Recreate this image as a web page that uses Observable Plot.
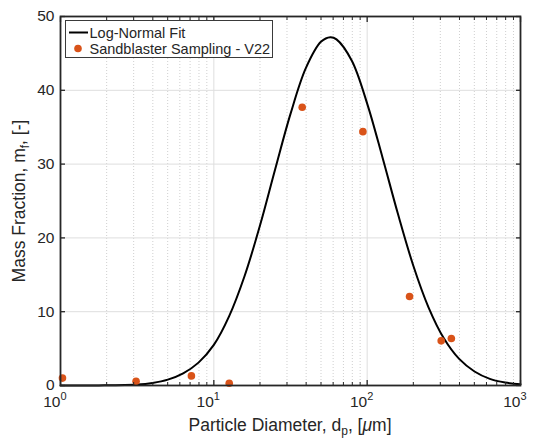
<!DOCTYPE html>
<html>
<head>
<meta charset="utf-8">
<script src="https://cdn.jsdelivr.net/npm/d3@7"></script>
<script src="https://cdn.jsdelivr.net/npm/@observablehq/plot@0.6"></script>
<style>
  html, body { margin: 0; padding: 0; background: #fff; }
  #chart { width: 533px; height: 438px; }
  svg { font-family: "Liberation Sans", Arial, Helvetica, sans-serif; }
</style>
</head>
<body>
<div id="chart"></div>
<script>
// ---- data ----
const sampleD  = [1.03, 3.11, 7.14, 12.6, 37.7, 93.8, 189, 304, 354];
const sampleMf = [1.0, 0.58, 1.3, 0.3, 37.7, 34.4, 12.06, 6.05, 6.37];

const fitD  = [1, 1.778, 3.162, 3.981, 5.012, 6.31, 7.943, 10, 12.59, 15.85, 19.95, 25.12, 31.62, 39.81, 50.12, 57.54, 63.1, 79.43, 100, 125.9, 158.5, 199.5, 251.2, 316.2, 398.1, 501.2, 631, 794.3, 1000];
const fitMf = [0.0, 0.01, 0.13, 0.35, 0.8, 1.65, 3.1, 5.5, 9.4, 14.8, 21.6, 29.3, 36.8, 43.0, 46.6, 47.2, 46.9, 44.0, 38.2, 30.9, 23.3, 16.3, 10.6, 6.4, 3.6, 1.9, 0.9, 0.4, 0.17];

const xMajor = [1, 10, 100, 1000];
const xExponents = ["0", "1", "2", "3"];
const xMinor = [2,3,4,5,6,7,8,9, 20,30,40,50,60,70,80,90, 200,300,400,500,600,700,800,900];
const yTicks = [0, 10, 20, 30, 40, 50];
const yGrid = [10, 20, 30, 40];

const seriesNames = ["Log-Normal Fit", "Sandblaster Sampling - V22"];

const samples = sampleD.map((d, i) => ({d, mf: sampleMf[i]}));
const fit = fitD.map((d, i) => ({d, mf: fitMf[i]}));
const majors = xMajor.map((d, i) => ({d, e: xExponents[i]}));

const axisColor = "#262626";
const orange = "#D95319";
const tickOpts = {tickFormat: () => "", label: null, stroke: axisColor};

const chart = Plot.plot({
  width: 533,
  height: 438,
  marginTop: 16,
  marginRight: 13,
  marginBottom: 53,
  marginLeft: 60,
  style: {fontFamily: '"Liberation Sans", Arial, Helvetica, sans-serif', background: "#fff"},
  x: {type: "log", domain: [1, 1000], label: null},
  y: {domain: [0, 50], label: null},
  marks: [
    // grid
    Plot.ruleX(xMinor, {stroke: "#cfcfcf", strokeWidth: 1, strokeDasharray: "1,2"}),
    Plot.ruleX(xMajor.slice(1, -1), {stroke: "#dedede", strokeWidth: 1}),
    Plot.ruleY(yGrid, {stroke: "#dedede", strokeWidth: 1}),
    // data
    Plot.line(fit, {x: "d", y: "mf", curve: "catmull-rom", stroke: "#000", strokeWidth: 2}),
    Plot.dot(samples, {x: "d", y: "mf", r: 3.8, fill: orange, stroke: "none"}),
    // frame + inward ticks
    Plot.frame({stroke: axisColor, strokeWidth: 1.8}),
    Plot.axisX({...tickOpts, anchor: "bottom", ticks: xMajor, tickSize: -5, strokeWidth: 1.3}),
    Plot.axisX({...tickOpts, anchor: "top", ticks: xMajor, tickSize: -5, strokeWidth: 1.3}),
    Plot.axisX({...tickOpts, anchor: "bottom", ticks: xMinor, tickSize: -3, strokeWidth: 1}),
    Plot.axisX({...tickOpts, anchor: "top", ticks: xMinor, tickSize: -3, strokeWidth: 1}),
    Plot.axisY({...tickOpts, anchor: "left", ticks: yTicks, tickSize: -5, strokeWidth: 1.3}),
    Plot.axisY({...tickOpts, anchor: "right", ticks: yTicks, tickSize: -5, strokeWidth: 1.3}),
    // tick labels
    Plot.text(yTicks, {y: d => d, frameAnchor: "left", text: d => String(d), textAnchor: "end", dx: -6, fontSize: 15.5, fill: axisColor}),
    Plot.text(majors, {x: "d", frameAnchor: "bottom", text: () => "10", textAnchor: "end", dx: 0, dy: 21, fontSize: 15.5, fill: axisColor}),
    Plot.text(majors, {x: "d", frameAnchor: "bottom", text: "e", textAnchor: "start", dx: 0, dy: 14, fontSize: 11, fill: axisColor})
  ]
});

document.getElementById("chart").appendChild(chart);

// ---- axis titles and legend ----
const svg = d3.select(chart);
const font = '"Liberation Sans", Arial, Helvetica, sans-serif';

const xt = svg.append("text")
  .attr("x", 290).attr("y", 431)
  .attr("text-anchor", "middle")
  .attr("font-size", 17.5).attr("fill", axisColor).attr("font-family", font);
xt.append("tspan").text("Particle Diameter, d");
xt.append("tspan").attr("font-size", 12).attr("dy", 4).text("p");
xt.append("tspan").attr("dy", -4).text(", [");
xt.append("tspan").attr("font-style", "italic").text("\u03BC");
xt.append("tspan").text("m]");

const yt = svg.append("text")
  .attr("transform", "translate(25,201) rotate(-90)")
  .attr("text-anchor", "middle")
  .attr("font-size", 17.5).attr("fill", axisColor).attr("font-family", font);
yt.append("tspan").text("Mass Fraction, m");
yt.append("tspan").attr("font-size", 12).attr("dy", 4).text("f");
yt.append("tspan").attr("dy", -4).text(", [-]");

const lg = svg.append("g").attr("font-family", font).attr("font-size", 14.5).attr("fill", axisColor).attr("text-anchor", "start");
lg.append("rect").attr("x", 65.5).attr("y", 20.5).attr("width", 207).attr("height", 37)
  .attr("fill", "#fff").attr("stroke", "#3a3a3a").attr("stroke-width", 1);
lg.append("line").attr("x1", 69).attr("x2", 88).attr("y1", 32.5).attr("y2", 32.5)
  .attr("stroke", "#000").attr("stroke-width", 2);
lg.append("text").attr("x", 89.5).attr("y", 32.5).attr("dy", "0.35em").attr("text-anchor", "start").text(seriesNames[0]);
lg.append("circle").attr("cx", 78).attr("cy", 48.5).attr("r", 3.8).attr("fill", orange);
lg.append("text").attr("x", 89.5).attr("y", 48.5).attr("dy", "0.35em").attr("text-anchor", "start").text(seriesNames[1]);
</script>
</body>
</html>
